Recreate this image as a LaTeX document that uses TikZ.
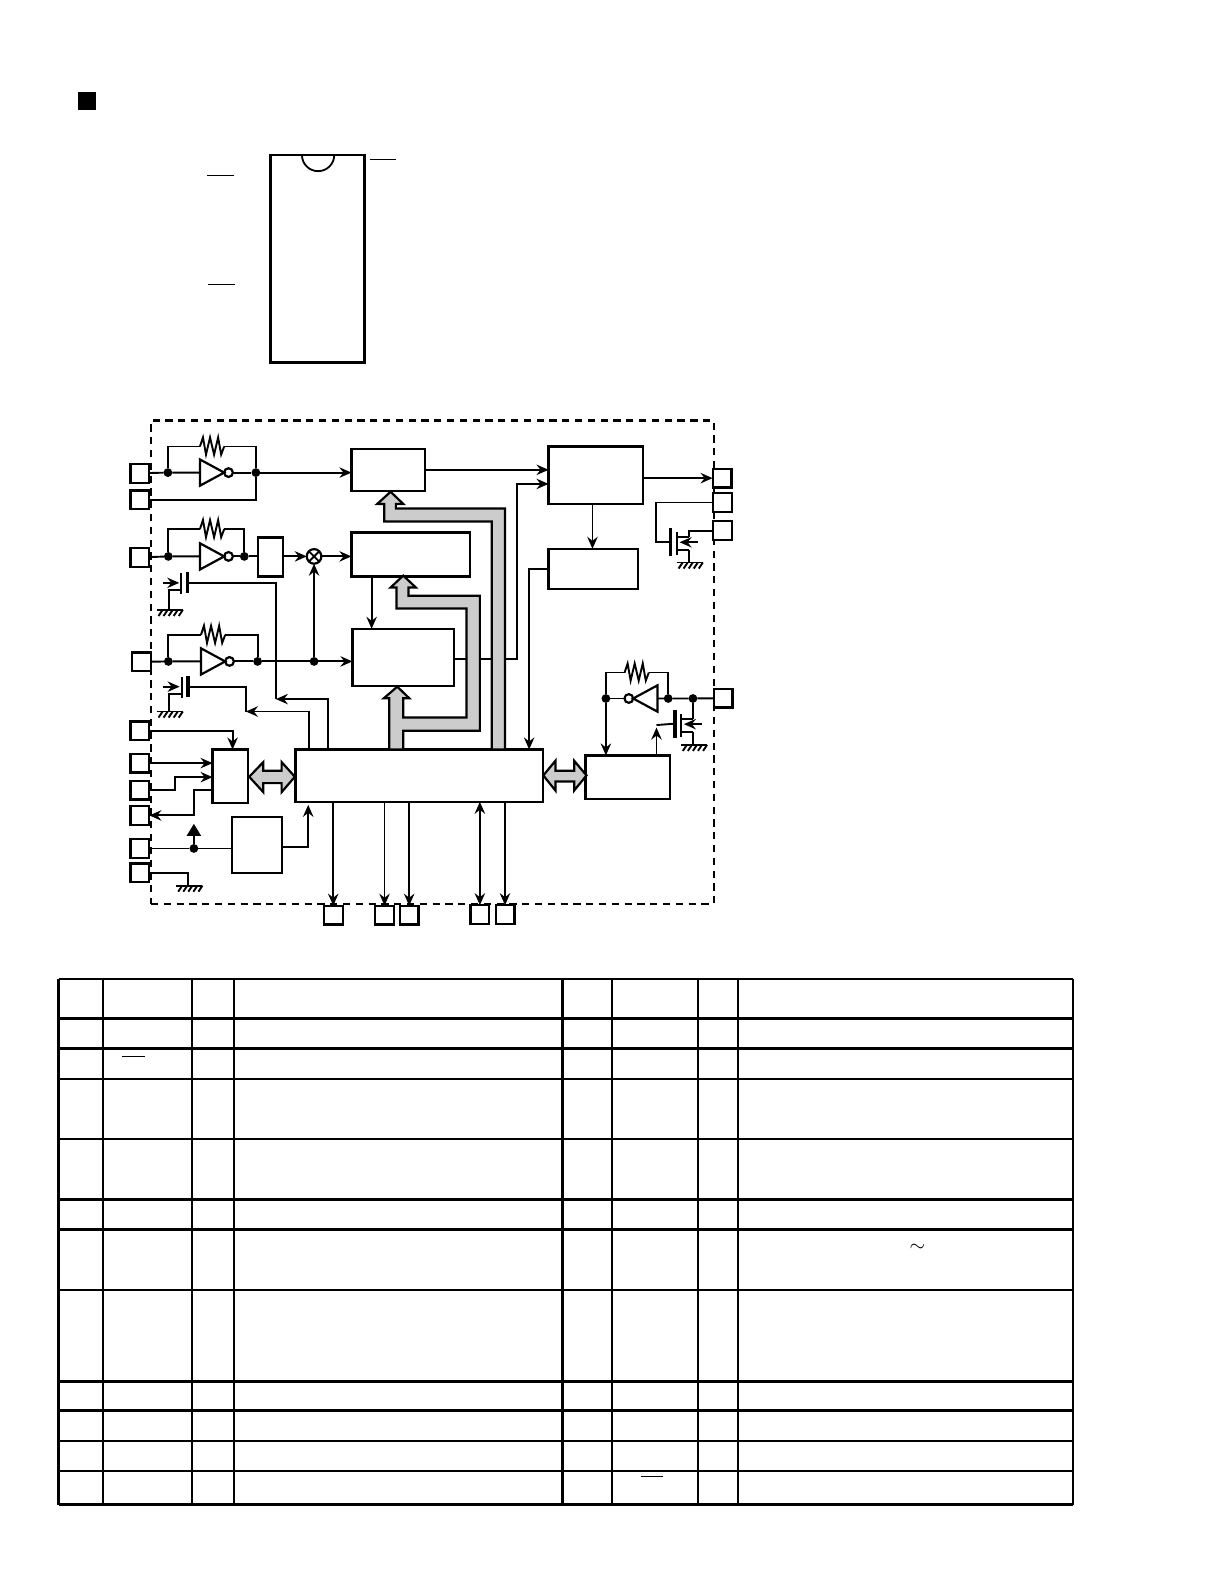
\documentclass[tikz,border=0pt]{standalone}
\usepackage{amsmath}
\usetikzlibrary{positioning,fit,arrows.meta}

\tikzset{
  blk/.style={draw, fill=white, line width=1.1pt, inner sep=0pt, outer sep=0pt},
  pinbox/.style={draw, fill=white, line width=1.1pt, inner sep=0pt, outer sep=0pt, minimum size=9.4pt},
  jdot/.style={circle, fill=black, inner sep=0pt, outer sep=0pt, minimum size=4.4pt},
  bus/.style={draw, fill=black!20, line width=1.1pt, line join=miter},
  rule/.style={line width=1.2pt},
  bar/.style={line width=.55pt},
  gnd/.pic={
    \draw (-12,0) -- (14,0);
    \foreach \i in {0,...,4}
    \draw ({\i*5-6},0) -- ({\i*5-10},6);
  },
  resist/.pic={
    \draw (0,0) -- (3,-9) -- (6,8) -- (10,-9) -- (14,8) -- (18,-9) -- (21,8) -- (24,0);
    \coordinate (-in) at (0,0);
    \coordinate (-out) at (24,0);
  },
  invgate/.pic={
    \draw[line width=1.1pt] (0,-13) -- (0,13) -- (24,0) -- cycle;
    \draw[line width=1.1pt] (28.3,0) circle (4.3);
    \coordinate (-in) at (0,0);
    \coordinate (-out) at (32.6,0);
  },
  capac/.pic={
    \draw (0,-10) -- (0,11);
    \draw[line width=1.8pt] (6,-11) -- (6,10);
    \draw[->] (-18,0) -- (-2,0);
    \coordinate (-o) at (7,0);
    \coordinate (-s) at (0,7);
  },
  fetsym/.pic={
    \draw[line width=1.8pt] (0,-14) -- (0,14);
    \draw (6.6,-10) -- (6.6,13);
    \draw (6.6,8.5) -- (18,8.5);
    \draw (6.6,-5) -- (18,-5);
    \draw[->] (27,.5) -- (9,.5);
    \coordinate (-g) at (0,0);
    \coordinate (-d) at (18,-5);
    \coordinate (-s) at (18,8.5);
  }
}

\begin{document}
\begin{tikzpicture}[x=.5049pt, y=-.5049pt, line width=.95pt,
    >={Stealth[length=6pt,width=5.2pt,inset=2pt]}]
  \useasboundingbox (0,0) rectangle (1212.1,1568.6);

  % heading mark and package
  \fill (77,91) rectangle (95,109);
  \node[blk, line width=1.2pt, fit={(268,153.5)(361,359)}] (pkg) {};
  \draw[line width=.9pt] (299,153.5) arc (180:0:16);
  \draw[bar] (205,174) -- (232,174);
  \draw[bar] (206,282) -- (233,282);
  \draw[bar] (366,158) -- (392,158);

  % block diagram
  \node[draw, dashed, dash pattern=on 3.6pt off 2.8pt, line width=1.1pt, inner sep=0pt, fit={(149.5,416.5)(706.9,895)}] (chip) {};

  \foreach \n/\a/\b/\c/\d in {lat/348/444.5/421/486, fil/348/527.3/465.3/570.9, dat/349/622.7/449.5/679.2,
      out/543.2/442.2/636.6/499, drv/543.2/543.5/631.6/583, dvd/255.4/532.3/280.5/570.9,
      cpu/292.7/742.2/537.9/794, mux/210.5/742.2/245.9/795, rst/229.4/808.8/279.5/864.6, ser/579.8/748.1/663.3/791}
  \node[blk, fit={(\a,\b)(\c,\d)}] (\n) {};

  \foreach \n/\x/\y in {pinA/138.6/468.6, pinB/138.6/495, pinC/138.6/552, pinD/140.4/655.4, pinE/138.6/723.8,
      pinF/138.6/755.7, pinG/138.6/782.4, pinH/138.6/807.5, pinI/138.6/840.2, pinJ/138.6/864.4,
      pinK/715/473.5, pinL/715.5/497.6, pinM/715.5/525.5, pinN/716/691.4,
      pinO/330/906.2, pinP/380.8/906.2, pinQ/405.2/906.2, pinR/475.2/905.7, pinS/500.1/905.7}
  \node[pinbox] (\n) at (\x,\y) {};

  \foreach \n/\x/\y in {d1a/166.3/468, d1b/253.4/468, d2a/166.7/551, d2b/241.9/551, d3a/166.7/655, d3b/255.1/655,
      d3c/311/655, d4a/600/691.7, d4b/661.7/691.7, d4c/686.2/691.7, d5/192/840.2}
  \node[jdot] (\n) at (\x,\y) {};

  \node[draw, circle, fill=white, line width=1.1pt, inner sep=0pt, outer sep=0pt, minimum size=7.3pt] (mix) at (311,551) {};
  \draw (mix.45) -- (mix.225) (mix.135) -- (mix.315);

  % oscillators
  \pic (i1) at (198,468) {invgate};
  \pic (r1) at (198,442.2) {resist};
  \draw (pinA) -- (d1a) -- (i1-in);
  \draw (i1-out) -- (d1b);
  \draw (d1a) |- (r1-in);
  \draw (r1-out) -| (d1b);
  \draw (pinB) -| (d1b);
  \draw[->] (d1b) -- (d1b -| lat.west);

  \pic (i2) at (198,551) {invgate};
  \pic (r2) at (198,524) {resist};
  \draw (pinC) -- (d2a) -- (i2-in);
  \draw (i2-out) -- (d2b) -- (d2b -| dvd.west);
  \draw (d2a) |- (r2-in);
  \draw (r2-out) -| (d2b);
  \draw[->] (dvd.east |- mix) -- (mix);
  \draw[->] (mix) -- (mix -| fil.west);

  \pic (i3) at (199,655) {invgate};
  \pic (r3) at (199,628.7) {resist};
  \draw (pinD) -- (d3a) -- (i3-in);
  \draw (i3-out) -- (d3b) -- (d3c);
  \draw (d3a) |- (r3-in);
  \draw (r3-out) -| (d3b);
  \draw[->] (d3c) -- (d3c -| dat.west);
  \draw[->] (d3c) -- (mix);

  \pic[xscale=-1] (i4) at (651,691.7) {invgate};
  \pic (r4) at (618.5,666) {resist};
  \draw (pinN) -- (d4c) -- (d4b) -- (i4-in);
  \draw (i4-out) -- (d4a);
  \draw (d4a) |- (r4-in);
  \draw (r4-out) -| (d4b);
  \draw[->] (d4a) -- (d4a |- ser.north);

  % gate capacitors
  \pic (c1) at (179.5,577.2) {capac};
  \pic (c2) at (179.9,680) {capac};
  \coordinate (g1) at (167,604);
  \coordinate (g2) at (167,704.6);
  \draw (c1-s) -| (g1);
  \draw (c2-s) -| (g2);
  \pic at (g1) {gnd};
  \pic at (g2) {gnd};
  \coordinate (j1) at (273.2,692.3);
  \coordinate (j2) at (243.5,704.6);
  \coordinate (up1) at (325,742.2);
  \coordinate (up2) at (305.9,742.2);
  \draw (c1-o) -| (j1);
  \draw (c2-o) -| (j2);
  \draw[->] (up1) |- (j1);
  \draw[->] (up2) |- (j2);

  % output transistors
  \pic (f1) at (664,536.5) {fetsym};
  \pic (f2) at (668.2,716.6) {fetsym};
  \coordinate (k1) at (649.4,536.5);
  \coordinate (g3) at (682,557);
  \coordinate (g4) at (686.2,737.6);
  \draw (pinL) -| (k1) -- (f1-g);
  \draw (f1-d) |- (pinM);
  \draw (f1-s) -- (g3);
  \draw (f2-d) -- (d4c);
  \draw (f2-s) -- (g4);
  \pic at (g3) {gnd};
  \pic at (g4) {gnd};
  \coordinate (k2) at (650.1,718);
  \draw (k2) -- (f2-g);
  \draw[->] (k2 |- ser.north) -- (650.1,720.5);

  % signal paths
  \coordinate (dq) at (449.5,652.7);
  \coordinate (jog) at (511.8,479.2);
  \coordinate (sv) at (524,742.2);
  \coordinate (v2) at (368,622.7);
  \coordinate (v4) at (586.7,543.5);
  \draw[->] (lat.east) -- (lat.east -| out.west);
  \draw[->] (dq) -| (jog) -- (jog -| out.west);
  \draw[->] (pinK -| out.east) -- (pinK);
  \draw[->] (v4 |- out.south) -- (v4);
  \draw[->] (drv.west) -| (sv);
  \draw[->] (v2 |- fil.south) -- (v2);

  % serial side
  \coordinate (mt) at (230.3,742.2);
  \coordinate (g7) at (173.2,769.6);
  \coordinate (h2) at (192,782);
  \coordinate (up3) at (192,815.8);
  \coordinate (g5) at (186.5,877);
  \coordinate (r5) at (305.2,797);
  \coordinate (r6) at (279.5,839.2);
  \draw[->] (pinE) -| (mt);
  \draw[->] (pinF) -- (pinF -| mux.west);
  \draw[->] (pinG) -| (g7) -- (g7 -| mux.west);
  \draw[->] (h2 -| mux.west) -- (h2) |- (pinH);
  \draw (pinI) -- (d5) -- (d5 -| rst.west);
  \draw[-{Triangle[length=6pt,width=7pt]}] (d5) -- (up3);
  \draw (pinJ) -| (g5);
  \pic at (g5) {gnd};
  \draw[->] (r6) -| (r5);

  \draw[->] (cpu.south -| pinO) -- (pinO);
  \draw[->] (cpu.south -| pinP) -- (pinP);
  \draw[->] (cpu.south -| pinQ) -- (pinQ);
  \draw[<->] (cpu.south -| pinR) -- (pinR);
  \draw[->] (cpu.south -| pinS) -- (pinS);

  % buses
  \path[bus] (386.8,487) -- (399.3,499) -- (392,499) -- (392,503.5) -- (500,503.5) -- (500,742.2) -- (487,742.2)
    -- (487,516.5) -- (380.5,516.5) -- (380.5,499) -- (373.6,499) -- cycle;
  \path[bus] (393.4,680) -- (405.2,691.4) -- (399.3,691.4) -- (399.3,710.5) -- (462,710.5) -- (462,602.6)
    -- (392.7,602.6) -- (392.7,581.8) -- (386.8,581.8) -- (399.3,570) -- (411.8,581.8) -- (404.6,581.8)
    -- (404.6,590) -- (475.2,590) -- (475.2,723.7) -- (399.3,723.7) -- (399.3,742.2) -- (385.4,742.2)
    -- (385.4,691.4) -- (380.2,691.4) -- cycle;
  \path[bus] (246.8,769.2) -- (260.7,754.7) -- (260.7,763.3) -- (278.9,763.3) -- (278.9,754.7) -- (292,769.2)
    -- (278.9,784.4) -- (278.9,775.5) -- (260.7,775.5) -- (260.7,784.4) -- cycle;
  \path[bus] (538,767.9) -- (550,753.4) -- (550,763.3) -- (568.6,763.3) -- (568.6,753.4) -- (580.8,767.9)
    -- (568.6,782.8) -- (568.6,773.9) -- (550,773.9) -- (550,782.8) -- cycle;

  % pin table
  \foreach \x in {58,102,190,232,557,606,691,731,1062.5}
  \draw[rule] (\x,969.4) -- (\x,1490);
  \foreach \y in {969.4,1008.7,1038.4,1068.4,1128,1187.7,1217.7,1277.4,1368,1396.8,1426.8,1456.8,1490}
  \draw[rule] (58,\y) -- (1062.5,\y);
  \draw[bar] (121,1046) -- (144,1046);
  \draw[bar] (635,1462) -- (657,1462);
  \node[inner sep=0pt] (tld) at (908.5,1236) {$\sim$};
\end{tikzpicture}
\end{document}
